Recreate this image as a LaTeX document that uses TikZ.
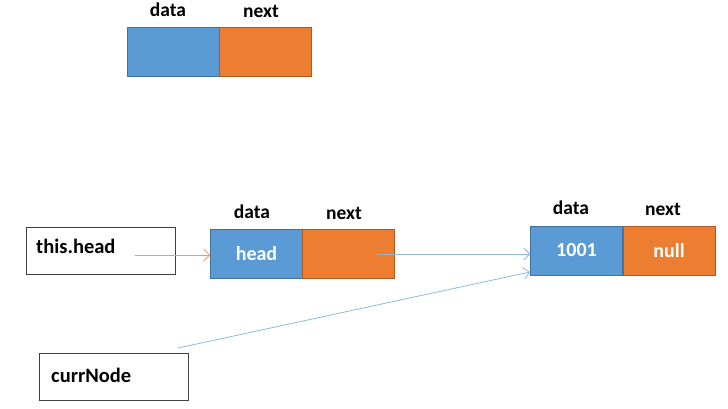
\documentclass[tikz,border=0pt]{standalone}
\usepackage{fontspec}
\setmainfont{Carlito}
\usepackage{xcolor}
\usepackage{tikz}
\usetikzlibrary{arrows.meta}

\definecolor{cellblue}{HTML}{5B9BD5}
\definecolor{cellorange}{HTML}{ED7D31}
\definecolor{blueedge}{HTML}{41719C}
\definecolor{orangeedge}{HTML}{AE5A21}
\definecolor{lineblue}{HTML}{8EB8E0}
\definecolor{lineorange}{HTML}{F29A64}

\tikzset{
  datacell/.style={rectangle, fill=cellblue, draw=blueedge, thin, inner sep=0pt,
    minimum width=92pt, minimum height=49pt, text=white, font=\fontsize{20}{24}\selectfont\bfseries},
  nextcell/.style={datacell, fill=cellorange, draw=orangeedge},
  fieldname/.style={font=\fontsize{19.5}{23}\selectfont\bfseries},
  varbox/.style={rectangle, draw=black!75, thin, inner sep=0pt,
    minimum width=149pt, minimum height=47pt},
  vartext/.style={anchor=west, inner sep=0pt, font=\fontsize{20.5}{24}\selectfont\bfseries},
  ptr/.style={-{Straight Barb[length=6pt,width=12pt]}, line width=0.8pt}
}

\begin{document}
\begin{tikzpicture}[x=1pt, y=-1pt]
  \useasboundingbox (0,0) rectangle (728,409);

  % node layout: data | next
  \node[datacell] (d0) at (173.5,51.5) {};
  \node[nextcell] (n0) at (265,51.5) {};
  \node[fieldname] (d0lbl) at (168,10) {data};
  \node[fieldname] (n0lbl) at (261,11) {next};

  % first node of the list
  \node[datacell] (d1) at (256.5,253.5) {head};
  \node[nextcell] (n1) at (348.5,253.5) {};
  \node[fieldname] (d1lbl) at (252,212) {data};
  \node[fieldname] (n1lbl) at (344,213) {next};

  % second node of the list
  \node[datacell] (d2) at (576.5,250.5) {1001};
  \node[nextcell] (n2) at (669,250.5) {null};
  \node[fieldname] (d2lbl) at (571,208) {data};
  \node[fieldname] (n2lbl) at (663,209) {next};

  % variables
  \node[varbox] (headvar) at (100.5,250.5) {};
  \node[vartext] (headtxt) at (36,246) {this.head};
  \node[varbox] (currvar) at (113.5,376.5) {};
  \node[vartext] (currtxt) at (51,375) {currNode};

  % pointers
  \coordinate (hstart) at (135,255);
  \coordinate (nstart) at (377,254);
  \coordinate (cstart) at (178,348);
  \coordinate (cend) at (530,272);
  \draw[ptr, lineorange] (hstart) -- (d1.west |- hstart);
  \draw[ptr, lineblue] (nstart) -- (d2.west |- nstart);
  \draw[ptr, lineblue] (cstart) -- (cend);
\end{tikzpicture}
\end{document}
